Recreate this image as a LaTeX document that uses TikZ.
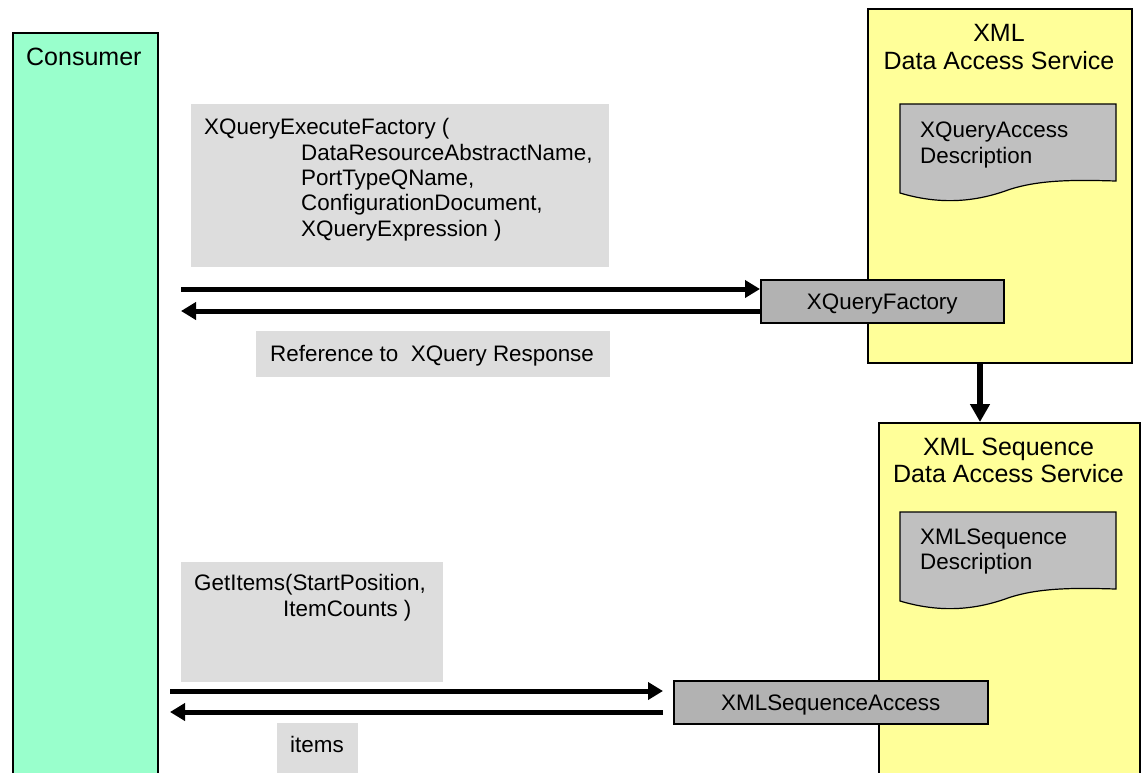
\documentclass[tikz,border=0pt]{standalone}
\usepackage{fontspec}
\setmainfont{Liberation Sans}
\usetikzlibrary{arrows.meta,calc}
\definecolor{consumerc}{HTML}{99FFCC}
\definecolor{servicec}{HTML}{FFFF99}
\definecolor{docc}{HTML}{C0C0C0}
\definecolor{accessc}{HTML}{B2B2B2}
\definecolor{notec}{HTML}{DDDDDD}
\newcommand\bodyfont{\fontsize{22.4}{25.5}\selectfont}
\newcommand\titlefont{\fontsize{25}{28}\selectfont}
\tikzset{
  lane/.style={draw=black, line width=1.6pt, inner sep=0pt, anchor=north west},
  accessbox/.style={draw=black, line width=1.6pt, fill=accessc, inner sep=0pt, anchor=north west},
  notebox/.style={fill=notec, inner sep=0pt, anchor=north west},
  docshape/.style={draw=black, line width=1.2pt, fill=docc},
  txt/.style={inner sep=0pt, anchor=base west, font=\bodyfont},
  ctxt/.style={inner sep=0pt, anchor=base, font=\bodyfont},
  ttl/.style={inner sep=0pt, anchor=base, font=\titlefont},
  msg/.style={line width=5pt, -{Triangle[length=15pt,width=17pt]}},
}
\begin{document}
\begin{tikzpicture}[x=1pt,y=-1pt]
\useasboundingbox (0,0) rectangle (1141,772);
% lanes
\node[lane, fill=consumerc, minimum width=145, minimum height=750] (cons) at (12,32) {};
\node[inner sep=0pt, anchor=base west, font=\titlefont] (conslbl) at (26,65) {Consumer};
\node[lane, fill=servicec, minimum width=264, minimum height=354] (xds) at (867,8) {};
\node[ttl] (xdst1) at (999,41) {XML};
\node[ttl] (xdst2) at (999,69) {Data Access Service};
\node[lane, fill=servicec, minimum width=261, minimum height=360] (xsds) at (878,422) {};
\node[ttl] (xsdst1) at (1008.5,455) {XML Sequence};
\node[ttl] (xsdst2) at (1008.5,482) {Data Access Service};
% documents
\draw[docshape] (900,104) -- (1116,104) -- (1116,181)
  .. controls (1080,180) and (1040,179) .. (1008,190)
  .. controls (975,202) and (940,205) .. (900,193) -- cycle;
\node[txt] (d1a) at (920,137) {XQueryAccess};
\node[txt] (d1b) at (920,163) {Description};
\draw[docshape] (900,512) -- (1116,512) -- (1116,589)
  .. controls (1080,588) and (1040,587) .. (1008,598)
  .. controls (975,610) and (940,613) .. (900,601) -- cycle;
\node[txt] (d2a) at (920,544) {XMLSequence};
\node[txt] (d2b) at (920,569) {Description};
% access boxes
\node[accessbox, minimum width=243, minimum height=43] (xqf) at (760,279) {};
\node[ctxt] (xqft) at ($(xqf.center)+(0,8)$) {XQueryFactory};
\node[accessbox, minimum width=314, minimum height=43] (xsa) at (673,680) {};
\node[ctxt] (xsat) at ($(xsa.center)+(0,8.5)$) {XMLSequenceAccess};
% notes
\node[notebox, minimum width=418, minimum height=163] (n1) at (191,104) {};
\node[txt] at (204,134) {XQueryExecuteFactory (};
\node[txt] at (301,160) {DataResourceAbstractName,};
\node[txt] at (301,185) {PortTypeQName,};
\node[txt] at (301,210) {ConfigurationDocument,};
\node[txt] at (301,236) {XQueryExpression )};
\node[notebox, minimum width=354, minimum height=46] (n2) at (256,331) {};
\node[txt] at (270,361) {Reference to\ \ XQuery Response};
\node[notebox, minimum width=262, minimum height=120] (n3) at (181,562) {};
\node[txt] at (194,590) {GetItems(StartPosition,};
\node[txt] at (283,616) {ItemCounts )};
\node[notebox, minimum width=81, minimum height=55] (n4) at (277,723) {};
\node[txt] at (290,752) {items};
% connectors
\coordinate (c1) at (181,289);
\coordinate (c2) at (181,311);
\coordinate (c3) at (170,691);
\coordinate (c4) at (170,712);
\coordinate (c5) at (663,691);
\coordinate (c6) at (663,712);
\draw[msg] (c1) -- (c1 -| xqf.west);
\draw[msg] (c2 -| xqf.west) -- (c2);
\draw[msg] (c3) -- (c5);
\draw[msg] (c6) -- (c4);
\draw[line width=6pt, -{Triangle[length=18pt,width=19pt]}] (xds.south -| 980,0) -- (xsds.north -| 980,0);
\end{tikzpicture}
\end{document}
